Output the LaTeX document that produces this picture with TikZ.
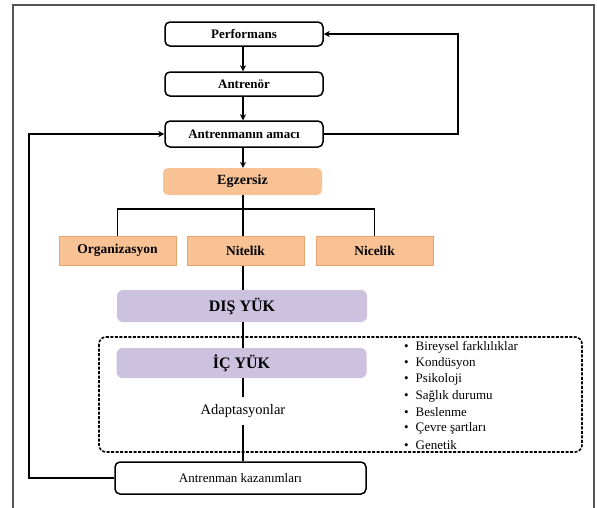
\documentclass[tikz,border=0pt]{standalone}
\usepackage{fontspec}
\setmainfont{Liberation Serif}
\usetikzlibrary{arrows.meta}
\definecolor{orfill}{HTML}{F8C295}
\definecolor{ordraw}{HTML}{E8A46C}
\definecolor{lilac}{HTML}{CCC2E0}
\definecolor{framegray}{HTML}{555555}
\tikzset{
  wbox/.style={draw=black, line width=1.5pt, rounded corners=5pt, fill=white, inner sep=0pt, align=center},
  egzbox/.style={fill=orfill, rounded corners=5pt, inner sep=0pt, minimum width=159pt, minimum height=27pt, font=\fontsize{14}{16}\selectfont\bfseries},
  obox/.style={fill=orfill, draw=ordraw, line width=1pt, inner sep=0pt, minimum width=117pt, minimum height=29pt, font=\fontsize{13.5}{16}\selectfont\bfseries},
  pbox/.style={fill=lilac, rounded corners=6pt, inner sep=0pt, minimum width=250pt, font=\fontsize{16}{18}\selectfont\bfseries},
  conn/.style={line width=1.6pt, draw=black},
  arr/.style={conn, -{Stealth[length=6pt,width=6pt]}},
  bullet/.style={anchor=west, inner sep=0pt, font=\fontsize{13}{15}\selectfont}
}
\begin{document}
\begin{tikzpicture}[x=1pt,y=-1pt]
\useasboundingbox (0,0) rectangle (597,507);
% outer frame
\draw[framegray, line width=1.2pt] (13,510) -- (13,5) -- (594,5) -- (594,510);
% dashed group box
\draw[line width=1.6pt, dashed, dash pattern=on 3pt off 1.5pt, rounded corners=7pt] (99,337) rectangle (582,452);

% main column
\node[wbox, minimum width=158pt, minimum height=24pt, font=\fontsize{13}{14}\selectfont\bfseries] (perf) at (244,34) {Performans};
\node[wbox, minimum width=158pt, minimum height=24pt, font=\fontsize{13}{14}\selectfont\bfseries] (antr) at (244,84) {Antrenör};
\node[wbox, minimum width=158pt, minimum height=26pt, font=\fontsize{13}{14}\selectfont\bfseries] (amac) at (244,134) {Antrenmanın amacı};
\node[egzbox] (egz) at (242.5,181.5) {Egzersiz};
\node[obox] (org) at (117.5,250.5) {Organizasyon};
\node[obox] (nit) at (245.5,250.5) {Nitelik};
\node[obox] (nic) at (374.5,250.5) {Nicelik};
\node[pbox, minimum height=32pt] (dis) at (242,306) {DIŞ YÜK};
\node[pbox, minimum height=30pt] (ic) at (241.5,363) {İÇ YÜK};
\node[inner sep=0pt, minimum height=28pt, font=\fontsize{14.5}{16}\selectfont] (adap) at (243,411) {Adaptasyonlar};
\node[wbox, minimum width=251pt, minimum height=32pt, font=\fontsize{13}{14}\selectfont] (kaz) at (240.5,478) {Antrenman kazanımları};

% bullets
\node[bullet] (b1) at (404,347) {•\hspace{7pt}Bireysel farklılıklar};
\node[bullet] (b2) at (404,363.3) {•\hspace{7pt}Kondüsyon};
\node[bullet] (b3) at (404,379.6) {•\hspace{7pt}Psikoloji};
\node[bullet] (b4) at (404,395.9) {•\hspace{7pt}Sağlık durumu};
\node[bullet] (b5) at (404,412.2) {•\hspace{7pt}Beslenme};
\node[bullet] (b6) at (404,428.5) {•\hspace{7pt}Çevre şartları};
\node[bullet] (b7) at (404,444.8) {•\hspace{7pt}Genetik};

% connectors
\coordinate (spine) at (243,0);
\draw[arr] (perf.south -| spine) -- (antr.north -| spine);
\draw[arr] (antr.south -| spine) -- (amac.north -| spine);
\draw[arr] (amac.south -| spine) -- (egz.north -| spine);
\coordinate (hbar) at (0,209);
\draw[conn] (egz.south -| spine) -- (nit.north -| spine);
\draw[conn] (org.north) -- (org.north |- hbar) -- (nic.north |- hbar) -- (nic.north);
\draw[conn] (nit.south -| spine) -- (dis.north -| spine);
\draw[conn] (dis.south -| spine) -- (ic.north -| spine);
\draw[conn] (ic.south -| spine) -- (adap.north -| spine);
\draw[conn] (adap.south -| spine) -- (kaz.north -| spine);
% feedback loops
\coordinate (lx) at (29,0);
\coordinate (rx) at (458,0);
\draw[arr] (kaz.west) -- (kaz.west -| lx) -- (amac.west -| lx) -- (amac.west);
\draw[arr] (amac.east) -- (amac.east -| rx) -- (perf.east -| rx) -- (perf.east);
\end{tikzpicture}
\end{document}
